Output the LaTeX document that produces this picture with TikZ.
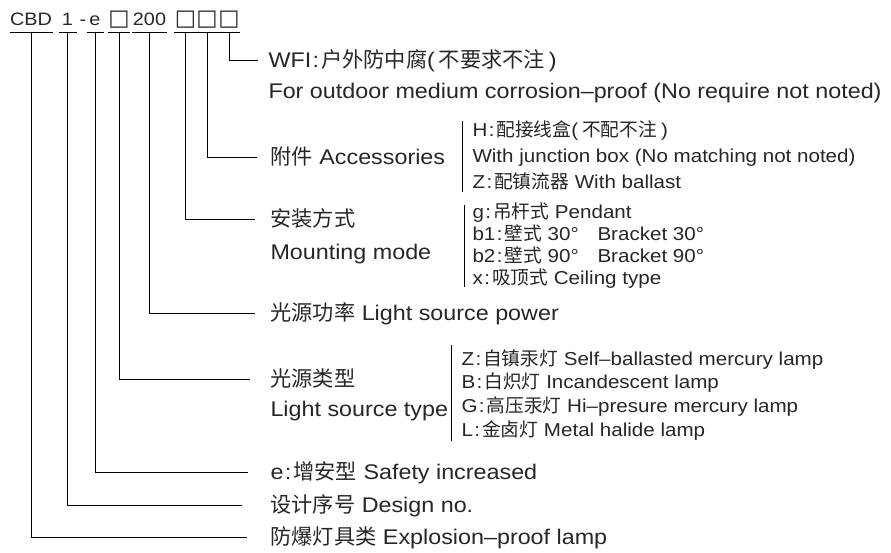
\documentclass[tikz,border=0pt]{standalone}
\usepackage{fontspec}
\setmainfont{Liberation Sans}[FakeStretch=1.1]
\newfontfamily\cjk{Noto Sans CJK SC}[Scale=1.0]
\newfontfamily\symf{DejaVu Sans}[Scale=1.25]
\newcommand\zh[1]{{\cjk #1}}
\newcommand\bx{{\symf □}}
\newcommand\cl{\kern1.5pt:\kern2pt}
\begin{document}
\begin{tikzpicture}[x=1pt,y=-1pt, line width=1pt,
  code/.style={anchor=base, inner sep=0pt, text depth=7pt, text=black!85, font=\fontsize{18}{18}\selectfont},
  lab/.style={anchor=base west, inner sep=0pt, text height=14pt, text depth=0pt, text=black!85, font=\fontsize{21.2}{24}\selectfont},
  opt/.style={anchor=base west, inner sep=0pt, text=black!85, font=\fontsize{18.7}{22}\selectfont},
  bar/.style={line width=1pt}]
\useasboundingbox (0,0) rectangle (891,552);
% code line
\node[code, minimum width=42pt] (cbd) at (31,25) {CBD};
\node[code, minimum width=17pt] (one) at (67.5,25) {1};
\node[code] (dash) at (83,25) {-};
\node[code, minimum width=16pt] (e) at (95,25) {e};
\node[code, minimum width=18pt] (s1) at (119,25) {\bx};
\node[code, minimum width=29pt] (pw) at (149.5,25) {200};
\node[code, minimum width=17pt] (s2) at (185.5,25) {\bx};
\node[code, minimum width=16pt] (s3) at (207,25) {\bx};
\node[code, minimum width=18pt] (s4) at (229,25) {\bx};
\foreach \n in {cbd,one,e,s1,pw,s2,s3,s4} \draw (\n.south west) -- (\n.south east);
% labels
\node[lab] (wfi) at (268,67) {WFI\cl\zh{户外防中腐}(\kern4pt\zh{不要求不注}\kern4pt)};
\node[lab] (wfi2) at (268,98) {For outdoor medium corrosion–proof (No require not noted)};
\node[lab] (acc) at (270,164) {\zh{附件} Accessories};
\draw[bar] (462,121) -- (462,192);
\node[opt] (h) at (472,136) {H\cl\zh{配接线盒}(\kern4pt\zh{不配不注}\kern4pt)};
\node[opt] (hj) at (472,162) {With junction box (No matching not noted)};
\node[opt] (zb) at (472,188) {Z\cl\zh{配镇流器} With ballast};
\node[lab] (mnt) at (270,226) {\zh{安装方式}};
\node[lab] (mnt2) at (270,259) {Mounting mode};
\draw[bar] (464,205) -- (464,287);
\node[opt] (g) at (472,218) {g\cl\zh{吊杆式} Pendant};
\node[opt] (bk1) at (472,240) {b1\cl\zh{壁式} 30°\quad Bracket 30°};
\node[opt] (bk2) at (472,262) {b2\cl\zh{壁式} 90°\quad Bracket 90°};
\node[opt] (xc) at (472,284) {x\cl\zh{吸顶式} Ceiling type};
\node[lab] (pow) at (270,320) {\zh{光源功率} Light source power};
\node[lab] (typ) at (270,386) {\zh{光源类型}};
\node[lab] (typ2) at (270,416) {Light source type};
\draw[bar] (451,345) -- (451,441);
\node[opt] (lz) at (461,365) {Z\cl\zh{自镇汞灯} Self–ballasted mercury lamp};
\node[opt] (lb) at (461,388) {B\cl\zh{白炽灯} Incandescent lamp};
\node[opt] (lg) at (461,412) {G\cl\zh{高压汞灯} Hi–presure mercury lamp};
\node[opt] (ll) at (461,436) {L\cl\zh{金卤灯} Metal halide lamp};
\node[lab] (ee) at (270,479) {e\cl\zh{增安型} Safety increased};
\node[lab] (des) at (270,512) {\zh{设计序号} Design no.};
\node[lab] (exp) at (270,544) {\zh{防爆灯具类} Explosion–proof lamp};
% connectors
\draw (s4.south) |- ([xshift=-10pt]wfi.west);
\draw (s3.south) |- ([xshift=-13pt]acc.west);
\draw (s2.south) |- ([xshift=-15pt]mnt.west);
\draw (pw.south) |- ([xshift=-15pt]pow.west);
\draw (s1.south) |- ([xshift=-20pt]typ.west);
\draw (e.south) |- ([xshift=-22pt]ee.west);
\draw (one.south) |- ([xshift=-28pt]des.west);
\draw (cbd.south) |- ([xshift=-23pt]exp.west);
\end{tikzpicture}
\end{document}
